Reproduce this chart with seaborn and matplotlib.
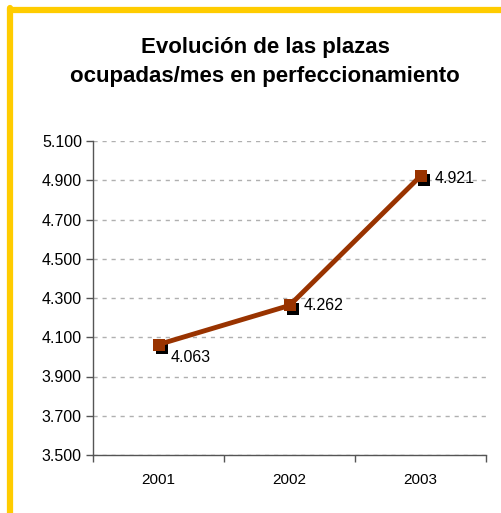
import matplotlib
matplotlib.use("Agg")
import matplotlib.pyplot as plt
import matplotlib.transforms as mtransforms
from matplotlib.ticker import FuncFormatter
import pandas as pd
import seaborn as sns

# ── Data ──────────────────────────────────────────────────────────────────────
years = ["2001", "2002", "2003"]
plazas = [4063, 4262, 4921]
y_ticks = [3500, 3700, 3900, 4100, 4300, 4500, 4700, 4900, 5100]
title = "Evolución de las plazas\nocupadas/mes en perfeccionamiento"

LINE_COLOR = "#993300"
BORDER_COLOR = "#FFCC00"

sns.set_theme(style="white")
plt.rcParams["font.family"] = ["Liberation Sans", "DejaVu Sans"]
plt.rcParams["text.color"] = "black"

df = pd.DataFrame({"year": years, "plazas": plazas})

fig = plt.figure(figsize=(5.01, 5.13), dpi=100)
ax = fig.add_axes([93 / 501, 1 - 455 / 513, 393 / 501, 314 / 513])

# shadow squares (offset down-right)
shadow = mtransforms.offset_copy(ax.transData, fig=fig, x=2.5, y=-2.5, units="points")
ax.scatter(range(len(years)), df["plazas"], marker="s", s=80, color="black",
           transform=shadow, zorder=3, linewidths=0)

sns.lineplot(data=df, x="year", y="plazas", ax=ax, color=LINE_COLOR,
             linewidth=3.5, marker="s", markersize=9, markeredgewidth=0,
             zorder=4, sort=False)

# value labels
label_offsets = [(8.5, -9.5), (10, 0), (10, -1.5)]
for i, (v, off) in enumerate(zip(plazas, label_offsets)):
    ax.annotate(f"{v:,}".replace(",", "."), (i, v), xytext=off,
                textcoords="offset points", fontsize=11.5, color="black",
                ha="left", va="center", zorder=5)

ax.set_xlim(-0.5, len(years) - 0.5)
ax.set_ylim(y_ticks[0], y_ticks[-1])
ax.set_yticks(y_ticks)
ax.yaxis.set_major_formatter(FuncFormatter(lambda v, p: f"{v:,.0f}".replace(",", ".")))
ax.grid(axis="y", color="#b0b0b0", linestyle=(0, (3, 3.5)), linewidth=1)
ax.set_xlabel("")
ax.set_ylabel("")

for side in ["top", "right"]:
    ax.spines[side].set_visible(False)
for side in ["left", "bottom"]:
    ax.spines[side].set_color("#555555")
    ax.spines[side].set_linewidth(1)

ax.tick_params(axis="y", left=True, length=5, width=1, color="#555555",
               labelsize=11.5, pad=3, labelcolor="black")
ax.tick_params(axis="x", bottom=False, labelsize=11, pad=7, labelcolor="black")
# category boundary ticks
ax.set_xticks([x - 0.5 for x in range(len(years) + 1)], minor=True)
ax.tick_params(axis="x", which="minor", bottom=True, length=5, width=1, color="#555555")

fig.text(265 / 501, 1 - 62 / 513, title, ha="center", va="center",
         fontsize=16, fontweight="bold", linespacing=1.45, color="black")

# yellow frame on top and left
fig.add_artist(plt.Line2D([10 / 501, 1], [1 - 10 / 513] * 2, color=BORDER_COLOR,
                          linewidth=4.5, transform=fig.transFigure))
fig.add_artist(plt.Line2D([10 / 501] * 2, [0, 1 - 8 / 513], color=BORDER_COLOR,
                          linewidth=4.5, transform=fig.transFigure))

fig.savefig("out.png", dpi=100)
